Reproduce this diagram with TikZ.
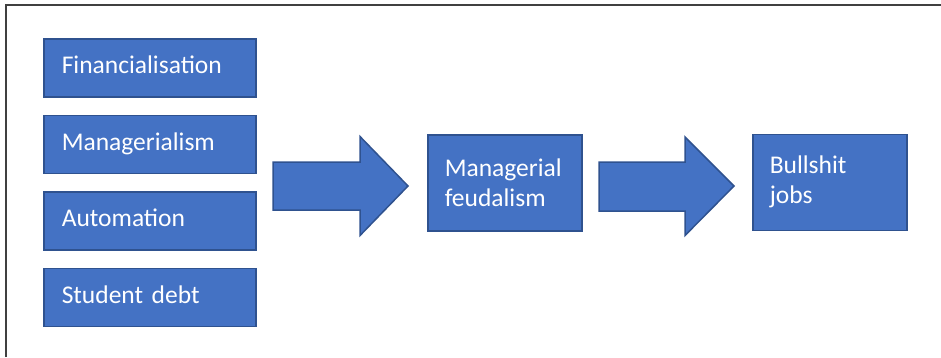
\documentclass[tikz,border=0pt]{standalone}
\usepackage{fontspec}
\setmainfont{Carlito}
\definecolor{boxfill}{HTML}{4472C4}
\definecolor{boxline}{HTML}{2F528F}
\definecolor{framec}{HTML}{404040}
\begin{document}
\begin{tikzpicture}[x=1pt,y=-1pt,
  cause/.style={draw=boxline,fill=boxfill,line width=1.5pt,rectangle,anchor=north west,
    minimum width=212pt,minimum height=58pt,inner xsep=18pt,inner ysep=0pt,
    text width=176pt,align=left,text=white,text height=18pt,text depth=6pt,
    font=\fontsize{25.5}{30}\selectfont},
  result/.style={draw=boxline,fill=boxfill,line width=1.5pt,rectangle,anchor=north west,
    minimum width=154pt,minimum height=96pt,inner xsep=17pt,inner ysep=0pt,
    text width=120pt,align=left,text=white,font=\fontsize{25.5}{30}\selectfont},
  bigarrow/.style={draw=boxline,fill=boxfill,line width=1.5pt,line join=miter}]
\useasboundingbox (0,0) rectangle (941,357);
\draw[framec,line width=2pt] (6,357) -- (6,5) -- (941,5);
\node[cause] (fin) at (43,38) {Financialisation};
\node[cause] (man) at (43,114.5) {Managerialism};
\node[cause] (aut) at (43,191) {Automation};
\node[cause] (stu) at (43,267.5) {Student debt};
\node[result] (mf) at (427,134) {Managerial\\feudalism};
\node[result] (bj) at (752,133.5) {Bullshit\\jobs};
\draw[bigarrow] (273,162) -- (360,162) -- (360,136.5) -- (408,186) -- (360,235.5) -- (360,210) -- (273,210) -- cycle;
\draw[bigarrow] (599,162) -- (685,162) -- (685,137) -- (734,186) -- (685,235.5) -- (685,211) -- (599,211) -- cycle;
\end{tikzpicture}
\end{document}
